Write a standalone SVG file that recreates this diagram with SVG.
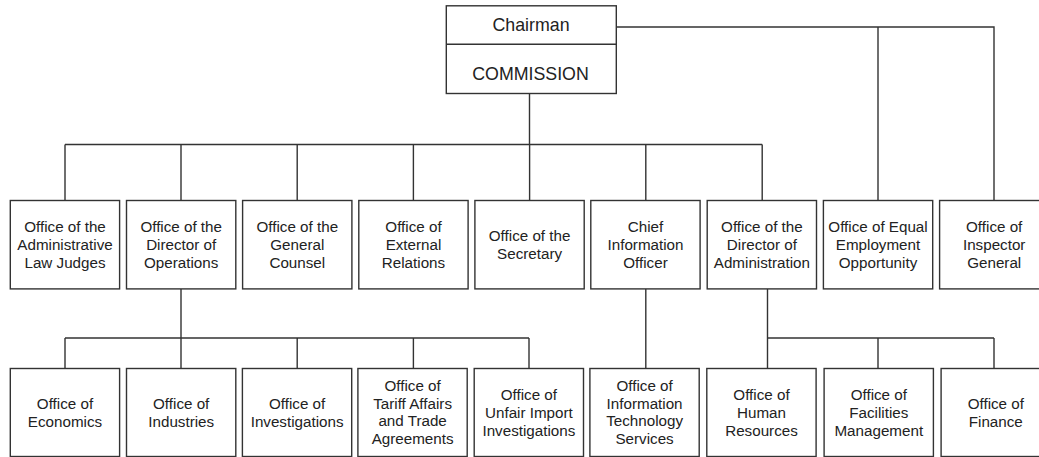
<svg xmlns="http://www.w3.org/2000/svg" width="1039" height="457" viewBox="0 0 1039 457">
<style>
.box{fill:#fff;stroke:#333;stroke-width:1.4}
.ln{fill:none;stroke:#333;stroke-width:1.4}
.t{font-family:"Liberation Sans",Arial,sans-serif;font-size:15.2px;fill:#222;text-anchor:middle}
.tt{font-family:"Liberation Sans",Arial,sans-serif;font-size:17.8px;fill:#222;text-anchor:middle}
</style>
<rect width="1039" height="457" fill="#fff"/>
<g id="connectors">
<path class="ln" d="M529.5 93.5V144.5M65 144.5H762.2M65 144.5V200.5M181 144.5V200.5M297.2 144.5V200.5M413.4 144.5V200.5M529.6 144.5V200.5M645.8 144.5V200.5M762.2 144.5V200.5"/>
<path class="ln" d="M616.5 27H994V200.5M878 27V200.5"/>
<path class="ln" d="M181 289V338M65 338H529M65 338V368.5M181 338V368.5M297.2 338V368.5M413.4 338V368.5M529 338V368.5"/>
<path class="ln" d="M645.8 289V368.5"/>
<path class="ln" d="M767.5 289V368.5M767.5 338H994M878 338V368.5M994 338V368.5"/>
</g>
<g id="chairman-commission">
<rect class="box" x="446.3" y="5.8" width="170" height="87.7"/>
<line class="ln" x1="446.3" y1="44.3" x2="616.3" y2="44.3"/>
<text class="tt" x="531" y="31">Chairman</text>
<text class="tt" x="530.5" y="80.3">COMMISSION</text>
</g>
<g id="alj">
<rect class="box" x="10.3" y="200.5" width="109.3" height="88.4"/>
<text class="t" x="65" y="232.2">Office of the</text>
<text class="t" x="65" y="250.2">Administrative</text>
<text class="t" x="65" y="268.2">Law Judges</text>
</g>
<g id="director-operations">
<rect class="box" x="126.5" y="200.5" width="109.3" height="88.4"/>
<text class="t" x="181.2" y="232.2">Office of the</text>
<text class="t" x="181.2" y="250.2">Director of</text>
<text class="t" x="181.2" y="268.2">Operations</text>
</g>
<g id="general-counsel">
<rect class="box" x="242.6" y="200.5" width="109.3" height="88.4"/>
<text class="t" x="297.3" y="232.2">Office of the</text>
<text class="t" x="297.3" y="250.2">General</text>
<text class="t" x="297.3" y="268.2">Counsel</text>
</g>
<g id="external-relations">
<rect class="box" x="358.8" y="200.5" width="109.3" height="88.4"/>
<text class="t" x="413.5" y="232.2">Office of</text>
<text class="t" x="413.5" y="250.2">External</text>
<text class="t" x="413.5" y="268.2">Relations</text>
</g>
<g id="secretary">
<rect class="box" x="474.9" y="200.5" width="109.3" height="88.4"/>
<text class="t" x="529.6" y="241.2">Office of the</text>
<text class="t" x="529.6" y="259.2">Secretary</text>
</g>
<g id="cio">
<rect class="box" x="590.8" y="200.5" width="109.3" height="88.4"/>
<text class="t" x="645.5" y="232.2">Chief</text>
<text class="t" x="645.5" y="250.2">Information</text>
<text class="t" x="645.5" y="268.2">Officer</text>
</g>
<g id="director-administration">
<rect class="box" x="707.2" y="200.5" width="109.3" height="88.4"/>
<text class="t" x="761.9" y="232.2">Office of the</text>
<text class="t" x="761.9" y="250.2">Director of</text>
<text class="t" x="761.9" y="268.2">Administration</text>
</g>
<g id="eeo">
<rect class="box" x="823.4" y="200.5" width="109.3" height="88.4"/>
<text class="t" x="878" y="232.2">Office of Equal</text>
<text class="t" x="878" y="250.2">Employment</text>
<text class="t" x="878" y="268.2">Opportunity</text>
</g>
<g id="inspector-general">
<rect class="box" x="939.6" y="200.5" width="109.3" height="88.4"/>
<text class="t" x="994.2" y="232.2">Office of</text>
<text class="t" x="994.2" y="250.2">Inspector</text>
<text class="t" x="994.2" y="268.2">General</text>
</g>
<g id="economics">
<rect class="box" x="10.3" y="368.5" width="109.3" height="88"/>
<text class="t" x="65" y="408.6">Office of</text>
<text class="t" x="65" y="426.6">Economics</text>
</g>
<g id="industries">
<rect class="box" x="126.5" y="368.5" width="109.3" height="88"/>
<text class="t" x="181.2" y="408.6">Office of</text>
<text class="t" x="181.2" y="426.6">Industries</text>
</g>
<g id="investigations">
<rect class="box" x="242.4" y="368.5" width="109.3" height="88"/>
<text class="t" x="297.1" y="408.6">Office of</text>
<text class="t" x="297.1" y="426.6">Investigations</text>
</g>
<g id="tariff-affairs">
<rect class="box" x="357.9" y="368.5" width="109.3" height="88"/>
<text class="t" x="412.6" y="390.8">Office of</text>
<text class="t" x="412.6" y="408.6">Tariff Affairs</text>
<text class="t" x="412.6" y="426.4">and Trade</text>
<text class="t" x="412.6" y="444.2">Agreements</text>
</g>
<g id="unfair-import">
<rect class="box" x="474.2" y="368.5" width="109.3" height="88"/>
<text class="t" x="528.9" y="399.7">Office of</text>
<text class="t" x="528.9" y="417.6">Unfair Import</text>
<text class="t" x="528.9" y="435.5">Investigations</text>
</g>
<g id="oits">
<rect class="box" x="589.9" y="368.5" width="109.3" height="88"/>
<text class="t" x="644.6" y="390.8">Office of</text>
<text class="t" x="644.6" y="408.6">Information</text>
<text class="t" x="644.6" y="426.4">Technology</text>
<text class="t" x="644.6" y="444.2">Services</text>
</g>
<g id="human-resources">
<rect class="box" x="706.8" y="368.5" width="109.3" height="88"/>
<text class="t" x="761.5" y="399.7">Office of</text>
<text class="t" x="761.5" y="417.6">Human</text>
<text class="t" x="761.5" y="435.5">Resources</text>
</g>
<g id="facilities">
<rect class="box" x="824.1" y="368.5" width="109.3" height="88"/>
<text class="t" x="878.8" y="399.7">Office of</text>
<text class="t" x="878.8" y="417.6">Facilities</text>
<text class="t" x="878.8" y="435.5">Management</text>
</g>
<g id="finance">
<rect class="box" x="941.1" y="368.5" width="109.3" height="88"/>
<text class="t" x="995.8" y="408.6">Office of</text>
<text class="t" x="995.8" y="426.6">Finance</text>
</g>
</svg>
